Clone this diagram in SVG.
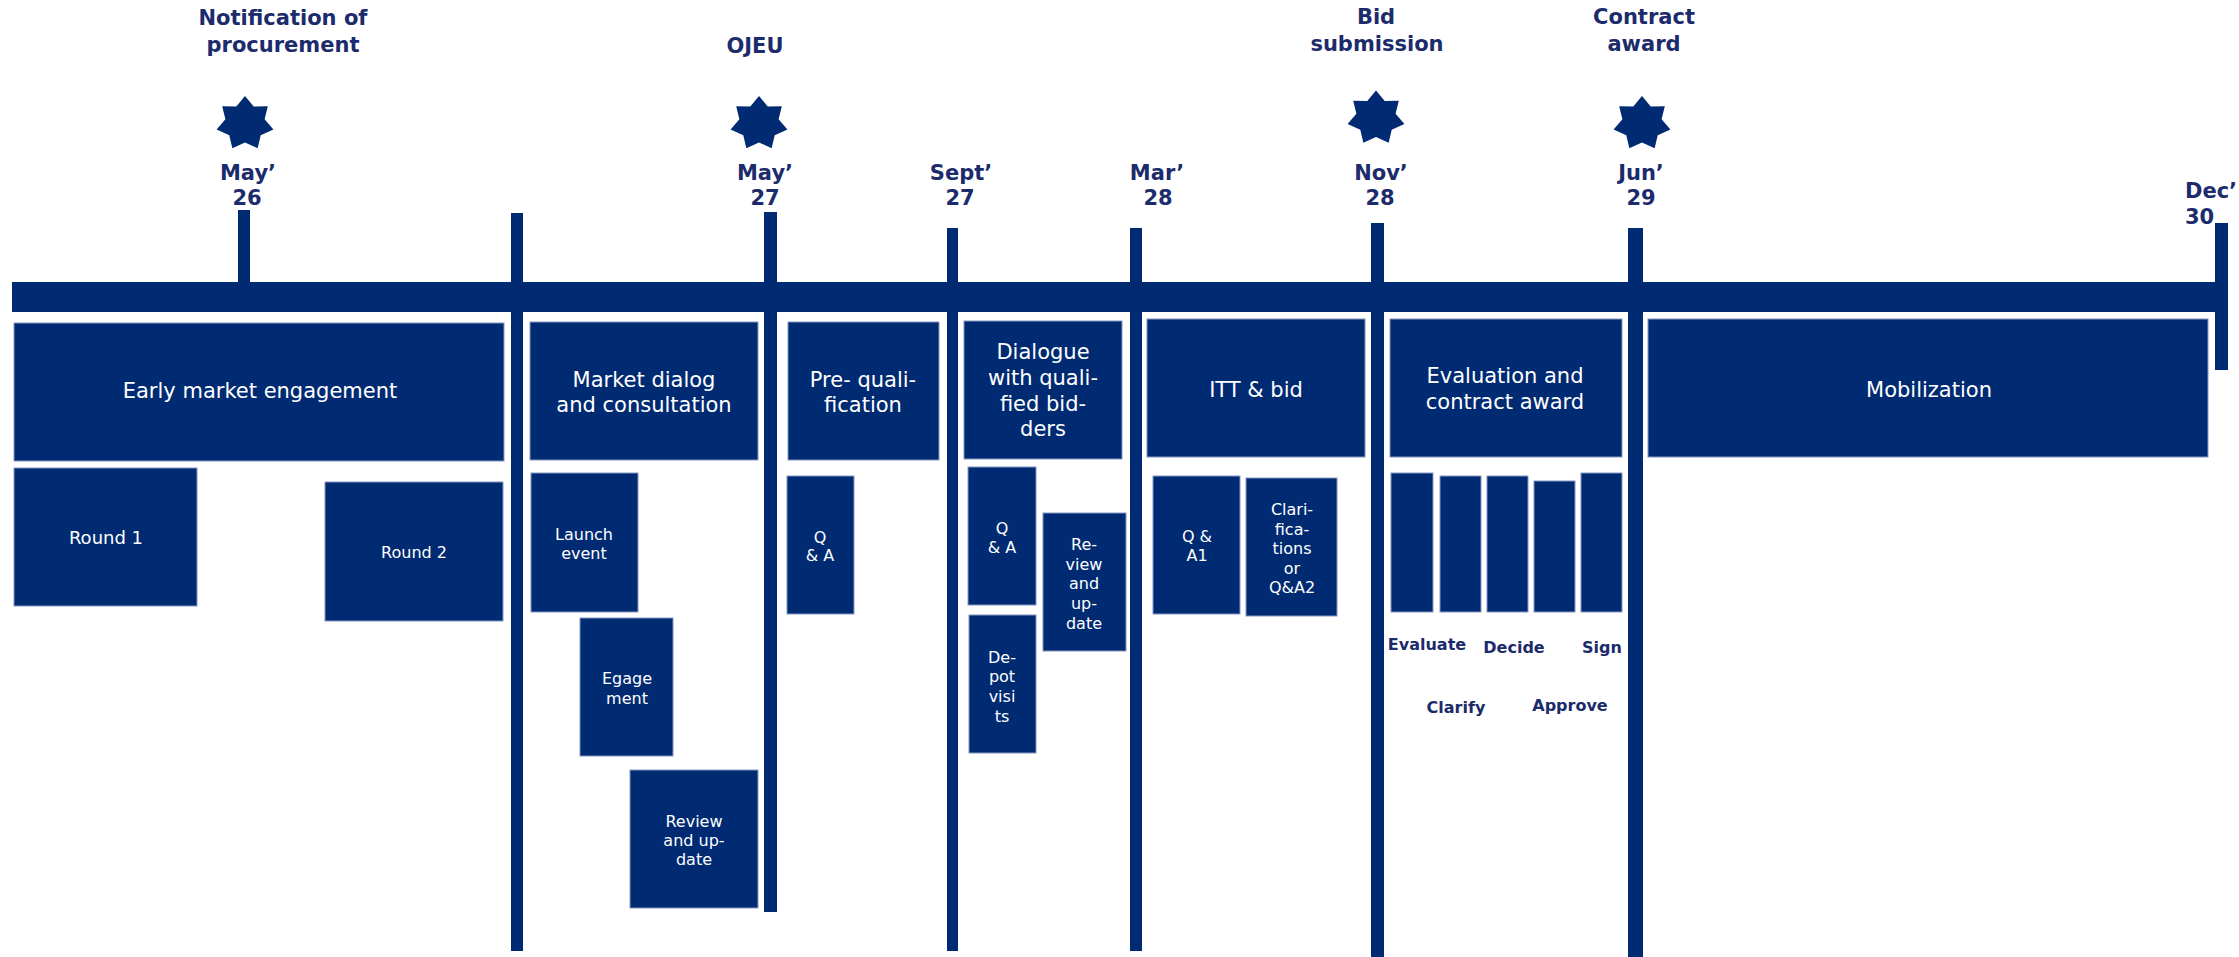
<svg xmlns="http://www.w3.org/2000/svg" xmlns:xlink="http://www.w3.org/1999/xlink" width="2239" height="957" viewBox="0 0 2239 957">
<style>
.bx{fill:#002B73;stroke:#8496c0;stroke-width:1}
.ln{fill:#002B73}
.t{font-family:"DejaVu Sans",Verdana,sans-serif;fill:#ffffff;text-anchor:middle}
.big{font-size:21px}
.sm{font-size:16px}
.lb{font-family:"DejaVu Sans",Verdana,sans-serif;font-weight:bold;fill:#1C2B6C;text-anchor:middle;font-size:21px}
.el{font-family:"DejaVu Sans",Verdana,sans-serif;font-weight:bold;fill:#1C2B6C;text-anchor:middle;font-size:16px}
</style>
<defs>
<polygon id="star" fill="#002B73" points="0,-27.5 8.23,-17.1 21.5,-17.15 18.5,-4.22 26.81,6.12 14.83,11.83 11.93,24.78 0,18.98 -11.93,24.78 -14.83,11.83 -26.81,6.12 -18.5,-4.22 -21.5,-17.15 -8.23,-17.1"/>
</defs>
<rect width="2239" height="957" fill="#ffffff"/>

<g id="timeline">
<rect class="ln" x="12" y="282" width="2216" height="30"/>
<rect class="ln" x="238" y="210" width="12" height="72"/>
<rect class="ln" x="511" y="213" width="12" height="738"/>
<rect class="ln" x="764" y="212" width="13" height="700"/>
<rect class="ln" x="947" y="228" width="11" height="723"/>
<rect class="ln" x="1130" y="228" width="12" height="723"/>
<rect class="ln" x="1371" y="223" width="13" height="734"/>
<rect class="ln" x="1628" y="228" width="15" height="729"/>
<rect class="ln" x="2215" y="223" width="13" height="147"/>
</g>

<g id="milestones">
<use xlink:href="#star" href="#star" transform="translate(245,123.5) scale(1.06,1)"/>
<use xlink:href="#star" href="#star" transform="translate(759,123.5) scale(1.06,1)"/>
<use xlink:href="#star" href="#star" transform="translate(1376,118) scale(1.06,1)"/>
<use xlink:href="#star" href="#star" transform="translate(1642,123.5) scale(1.06,1)"/>
<text class="lb" x="283" y="25">Notification of</text>
<text class="lb" x="283" y="52">procurement</text>
<text class="lb" x="755" y="53">OJEU</text>
<text class="lb" x="1376" y="24">Bid</text>
<text class="lb" x="1377" y="51">submission</text>
<text class="lb" x="1644" y="24">Contract</text>
<text class="lb" x="1644" y="51">award</text>
</g>

<g id="dates">
<text class="lb" x="248" y="180">May’</text><text class="lb" x="247" y="205">26</text>
<text class="lb" x="765" y="180">May’</text><text class="lb" x="765" y="205">27</text>
<text class="lb" x="961" y="180">Sept’</text><text class="lb" x="960" y="205">27</text>
<text class="lb" x="1157" y="180">Mar’</text><text class="lb" x="1158" y="205">28</text>
<text class="lb" x="1381" y="180">Nov’</text><text class="lb" x="1380" y="205">28</text>
<text class="lb" x="1641" y="180">Jun’</text><text class="lb" x="1641" y="205">29</text>
<text class="lb" x="2185" y="198" text-anchor="start" style="text-anchor:start">Dec’</text>
<text class="lb" x="2185" y="224" style="text-anchor:start">30</text>
</g>

<g id="early-market">
<rect class="bx" x="14" y="323" width="490" height="138"/>
<text class="t big" x="260" y="398">Early market engagement</text>
</g>
<g id="round1">
<rect class="bx" x="14" y="468" width="183" height="138"/>
<text class="t" style="font-size:18px" x="106" y="544">Round 1</text>
</g>
<g id="round2">
<rect class="bx" x="325" y="482" width="178" height="139"/>
<text class="t sm" x="414" y="558">Round 2</text>
</g>

<g id="market-dialog">
<rect class="bx" x="530" y="322" width="228" height="138"/>
<text class="t big" x="644" y="387">Market dialog</text>
<text class="t big" x="644" y="412">and consultation</text>
</g>
<g id="launch-event">
<rect class="bx" x="531" y="473" width="107" height="139"/>
<text class="t sm" x="584" y="540">Launch</text>
<text class="t sm" x="584" y="559">event</text>
</g>
<g id="egagement">
<rect class="bx" x="580" y="618" width="93" height="138"/>
<text class="t sm" x="627" y="684">Egage</text>
<text class="t sm" x="627" y="704">ment</text>
</g>
<g id="review-update-1">
<rect class="bx" x="630" y="770" width="128" height="138"/>
<text class="t sm" x="694" y="827">Review</text>
<text class="t sm" x="694" y="846">and up-</text>
<text class="t sm" x="694" y="865">date</text>
</g>

<g id="prequal">
<rect class="bx" x="788" y="322" width="151" height="138"/>
<text class="t big" x="863" y="387">Pre- quali-</text>
<text class="t big" x="863" y="412">fication</text>
</g>
<g id="qa-prequal">
<rect class="bx" x="787" y="476" width="67" height="138"/>
<text class="t sm" x="820" y="543">Q</text>
<text class="t sm" x="820" y="561">&amp; A</text>
</g>

<g id="dialogue">
<rect class="bx" x="964" y="321" width="158" height="138"/>
<text class="t big" x="1043" y="359">Dialogue</text>
<text class="t big" x="1043" y="385">with quali-</text>
<text class="t big" x="1043" y="411">fied bid-</text>
<text class="t big" x="1043" y="436">ders</text>
</g>
<g id="qa-dialogue">
<rect class="bx" x="968" y="467" width="68" height="138"/>
<text class="t sm" x="1002" y="534">Q</text>
<text class="t sm" x="1002" y="553">&amp; A</text>
</g>
<g id="depot-visits">
<rect class="bx" x="969" y="615" width="67" height="138"/>
<text class="t sm" x="1002" y="663">De-</text>
<text class="t sm" x="1002" y="682">pot</text>
<text class="t sm" x="1002" y="702">visi</text>
<text class="t sm" x="1002" y="722">ts</text>
</g>
<g id="review-update-2">
<rect class="bx" x="1043" y="513" width="83" height="138"/>
<text class="t sm" x="1084" y="550">Re-</text>
<text class="t sm" x="1084" y="570">view</text>
<text class="t sm" x="1084" y="589">and</text>
<text class="t sm" x="1084" y="609">up-</text>
<text class="t sm" x="1084" y="629">date</text>
</g>

<g id="itt-bid">
<rect class="bx" x="1147" y="319" width="218" height="138"/>
<text class="t big" x="1256" y="397">ITT &amp; bid</text>
</g>
<g id="qa1">
<rect class="bx" x="1153" y="476" width="87" height="138"/>
<text class="t sm" x="1197" y="542">Q &amp;</text>
<text class="t sm" x="1197" y="561">A1</text>
</g>
<g id="clarifications">
<rect class="bx" x="1246" y="478" width="91" height="138"/>
<text class="t sm" x="1292" y="515">Clari-</text>
<text class="t sm" x="1292" y="535">fica-</text>
<text class="t sm" x="1292" y="554">tions</text>
<text class="t sm" x="1292" y="574">or</text>
<text class="t sm" x="1292" y="593">Q&amp;A2</text>
</g>

<g id="evaluation">
<rect class="bx" x="1390" y="319" width="232" height="138"/>
<text class="t big" x="1505" y="383">Evaluation and</text>
<text class="t big" x="1505" y="409">contract award</text>
</g>
<g id="eval-steps">
<rect class="bx" x="1391" y="473" width="42" height="139"/>
<rect class="bx" x="1440" y="476" width="41" height="136"/>
<rect class="bx" x="1487" y="476" width="41" height="136"/>
<rect class="bx" x="1534" y="481" width="41" height="131"/>
<rect class="bx" x="1581" y="473" width="41" height="139"/>
<text class="el" x="1427" y="650">Evaluate</text>
<text class="el" x="1514" y="653">Decide</text>
<text class="el" x="1602" y="653">Sign</text>
<text class="el" x="1456" y="713">Clarify</text>
<text class="el" x="1570" y="711">Approve</text>
</g>

<g id="mobilization">
<rect class="bx" x="1648" y="319" width="560" height="138"/>
<text class="t big" x="1929" y="397">Mobilization</text>
</g>
</svg>
